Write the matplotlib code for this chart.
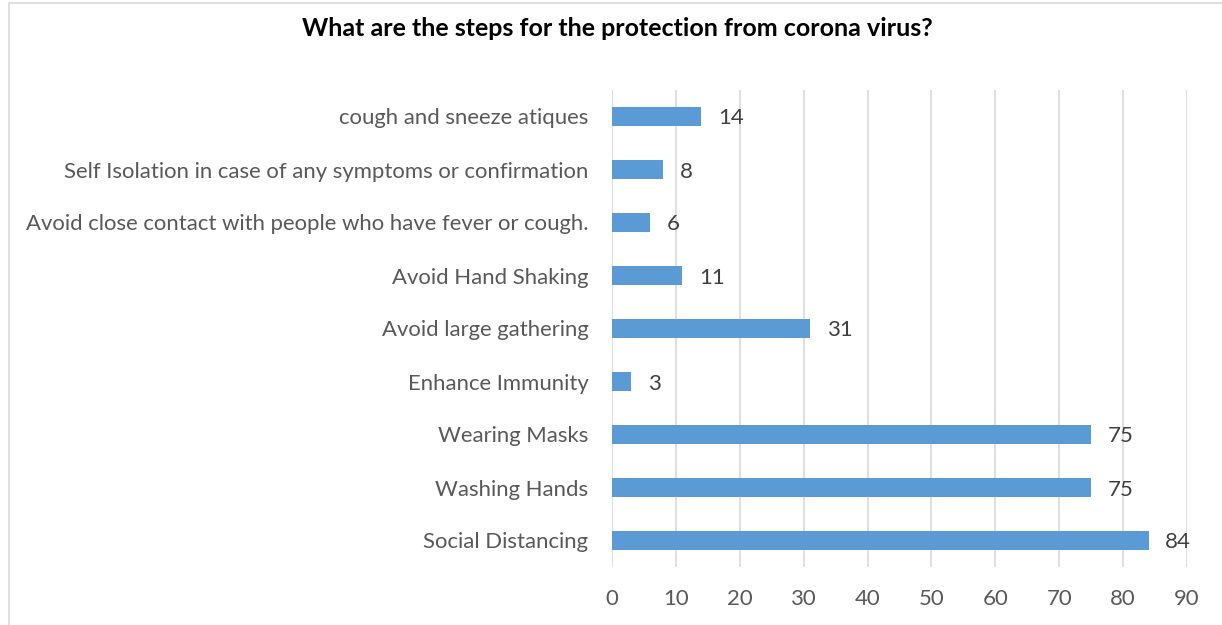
import matplotlib
matplotlib.use("Agg")
import matplotlib.pyplot as plt
from matplotlib.patches import Rectangle

categories = [
    "Social Distancing",
    "Washing Hands",
    "Wearing Masks",
    "Enhance Immunity",
    "Avoid large gathering",
    "Avoid Hand Shaking",
    "Avoid close contact with people who have fever or cough.",
    "Self Isolation in case of any symptoms or confirmation",
    "cough and sneeze atiques",
]
values = [84, 75, 75, 3, 31, 11, 6, 8, 14]
x_ticks = [0, 10, 20, 30, 40, 50, 60, 70, 80, 90]

plt.rcParams["font.family"] = ["Lato", "DejaVu Sans"]

fig = plt.figure(figsize=(12.22, 6.25), dpi=100)
ax = fig.add_axes([0.5008, 0.0928, 0.4706, 0.7632])

y = range(len(categories))
ax.barh(y, values, height=0.36, color="#5B9BD5", zorder=3)
for yi, v in zip(y, values):
    ax.text(v + 2.6, yi, str(v), va="center_baseline", ha="left",
            fontsize=16, color="#404040")

ax.set_xlim(0, 90)
ax.set_ylim(-0.5, len(categories) - 0.5)
ax.set_xticks(x_ticks)
ax.set_yticks(list(y))
ax.set_yticklabels(categories)
ax.tick_params(axis="y", length=0, pad=17, labelsize=15.9, labelcolor="#595959")
ax.tick_params(axis="x", length=0, pad=16, labelsize=15.9, labelcolor="#595959")
ax.grid(axis="x", color="#D9D9D9", linewidth=1.2, zorder=0)
for s in ax.spines.values():
    s.set_visible(False)

fig.text(0.505, 0.955, "What are the steps for the protection from corona virus?",
         ha="center", va="center", fontsize=18, fontweight="bold", color="#000000")

# chart frame
fig.patches.append(Rectangle((0.0074, -0.05), 1.2, 1.045, transform=fig.transFigure,
                             fill=False, edgecolor="#D9D9D9", linewidth=1.2))

fig.savefig("out.png", dpi=100)
